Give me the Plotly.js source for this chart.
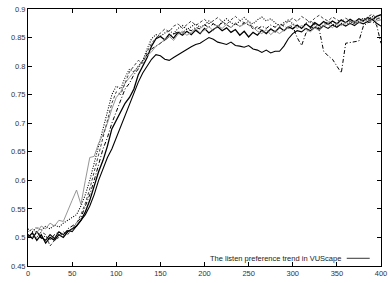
<!DOCTYPE html>
<html>
<head>
<meta charset="utf-8">
<script src="https://cdn.plot.ly/plotly-3.0.1.min.js"></script>
<style>html,body{margin:0;padding:0;background:#fff;}#chart{width:388px;height:283px;}</style>
</head>
<body>
<div id="chart"></div>
<script>
var steps = [
  0,5,10,15,20,25,30,35,40,45,
  50,55,60,65,70,75,80,85,90,95,
  100,105,110,115,120,125,130,135,140,145,
  150,155,160,165,170,175,180,185,190,195,
  200,205,210,215,220,225,230,235,240,245,
  250,255,260,265,270,275,280,285,290,295,
  300,305,310,315,320,325,330,335,340,345,
  350,355,360,365,370,375,380,385,390,395,
  400];

var runLow = [
  0.505,0.498,0.51,0.5,0.495,0.505,0.498,0.51,0.505,0.512,
  0.51,0.52,0.528,0.54,0.555,0.575,0.6,0.62,0.64,0.655,
  0.675,0.695,0.715,0.735,0.755,0.772,0.788,0.8,0.812,0.82,
  0.818,0.812,0.81,0.815,0.82,0.825,0.83,0.834,0.838,0.84,
  0.845,0.85,0.847,0.842,0.84,0.838,0.842,0.836,0.835,0.833,
  0.836,0.83,0.828,0.824,0.828,0.823,0.826,0.826,0.835,0.848,
  0.857,0.862,0.86,0.866,0.862,0.868,0.865,0.87,0.866,0.872,
  0.868,0.874,0.87,0.875,0.871,0.877,0.874,0.878,0.882,0.875,
  0.87];

var runFast = [
  0.5,0.508,0.495,0.505,0.49,0.5,0.495,0.505,0.5,0.51,
  0.515,0.52,0.53,0.545,0.565,0.59,0.615,0.635,0.66,0.69,
  0.705,0.72,0.735,0.745,0.76,0.785,0.8,0.815,0.835,0.848,
  0.852,0.846,0.856,0.849,0.859,0.854,0.861,0.855,0.863,0.857,
  0.866,0.858,0.864,0.869,0.862,0.867,0.859,0.864,0.854,0.861,
  0.851,0.859,0.854,0.863,0.857,0.865,0.86,0.868,0.862,0.869,
  0.865,0.872,0.866,0.874,0.868,0.876,0.871,0.878,0.873,0.879,
  0.874,0.881,0.876,0.882,0.877,0.883,0.879,0.885,0.881,0.887,
  0.89];

var runDip = [
  0.505,0.5,0.51,0.498,0.503,0.495,0.505,0.51,0.502,0.515,
  0.52,0.525,0.535,0.555,0.575,0.6,0.63,0.655,0.675,0.7,
  0.72,0.74,0.76,0.77,0.785,0.795,0.81,0.82,0.83,0.835,
  0.84,0.845,0.852,0.856,0.86,0.858,0.865,0.862,0.868,0.865,
  0.872,0.868,0.874,0.87,0.876,0.872,0.868,0.874,0.87,0.876,
  0.872,0.868,0.865,0.87,0.866,0.872,0.868,0.874,0.87,0.866,
  0.87,0.85,0.836,0.858,0.866,0.87,0.864,0.826,0.818,0.812,
  0.8,0.788,0.84,0.841,0.842,0.844,0.87,0.876,0.878,0.872,
  0.84];

var runLead = [
  0.515,0.51,0.518,0.512,0.52,0.515,0.522,0.518,0.525,0.53,
  0.535,0.54,0.555,0.575,0.6,0.63,0.66,0.69,0.72,0.75,
  0.765,0.76,0.78,0.795,0.79,0.8,0.81,0.83,0.848,0.855,
  0.852,0.858,0.862,0.857,0.866,0.871,0.864,0.869,0.874,0.868,
  0.872,0.879,0.874,0.869,0.877,0.883,0.876,0.872,0.879,0.885,
  0.878,0.874,0.881,0.886,0.879,0.883,0.876,0.87,0.876,0.881,
  0.874,0.87,0.868,0.875,0.879,0.873,0.867,0.872,0.878,0.874,
  0.869,0.875,0.871,0.878,0.874,0.879,0.884,0.88,0.887,0.882,
  0.886];

var runBump = [
  0.51,0.515,0.508,0.52,0.515,0.525,0.52,0.53,0.528,0.545,
  0.565,0.583,0.558,0.6,0.64,0.642,0.665,0.68,0.7,0.725,
  0.745,0.755,0.77,0.78,0.79,0.8,0.81,0.818,0.825,0.835,
  0.84,0.847,0.852,0.845,0.856,0.861,0.854,0.859,0.866,0.858,
  0.863,0.869,0.862,0.871,0.866,0.873,0.867,0.876,0.869,0.874,
  0.878,0.868,0.861,0.857,0.864,0.855,0.862,0.857,0.863,0.869,
  0.873,0.866,0.871,0.864,0.86,0.867,0.862,0.87,0.874,0.867,
  0.876,0.871,0.877,0.873,0.879,0.875,0.882,0.876,0.884,0.879,
  0.881];

var runDash = [
  0.5,0.505,0.5,0.51,0.505,0.485,0.495,0.5,0.51,0.505,
  0.515,0.525,0.54,0.56,0.585,0.615,0.645,0.675,0.7,0.735,
  0.755,0.75,0.77,0.79,0.8,0.81,0.805,0.825,0.84,0.85,
  0.858,0.865,0.86,0.87,0.874,0.866,0.872,0.879,0.871,0.876,
  0.882,0.874,0.879,0.885,0.878,0.873,0.881,0.887,0.88,0.876,
  0.872,0.865,0.869,0.861,0.858,0.866,0.86,0.867,0.873,0.878,
  0.884,0.878,0.887,0.882,0.876,0.884,0.889,0.883,0.879,0.886,
  0.881,0.877,0.884,0.879,0.874,0.882,0.878,0.886,0.891,0.884,
  0.882];

var xTicks = [0,50,100,150,200,250,300,350,400];
var yTicks = [0.45,0.5,0.55,0.6,0.65,0.7,0.75,0.8,0.85,0.9];
var legendText = 'The listen preference trend in VUScape';

var series = [
  {y: runLow,  color: '#000000', dash: 'solid',   width: 1.1},
  {y: runFast, color: '#000000', dash: 'solid',   width: 1.3},
  {y: runDip,  color: '#000000', dash: '4px,2px,1px,2px', width: 1},
  {y: runLead, color: '#000000', dash: '1px,1.5px', width: 1.1},
  {y: runBump, color: '#8a8a8a', dash: 'solid',   width: 0.9},
  {y: runDash, color: '#444444', dash: '3px,2px', width: 1}
];

var traces = series.map(function(s){
  return {x: steps, y: s.y, type: 'scatter', mode: 'lines',
    line: {color: s.color, dash: s.dash, width: s.width, shape: 'linear'},
    showlegend: false, hoverinfo: 'skip'};
});

var axisCommon = {
  ticks: 'inside', ticklen: 4, tickwidth: 1, tickcolor: '#000',
  showline: true, linecolor: '#000', linewidth: 1, mirror: 'ticks',
  showgrid: false, zeroline: false, fixedrange: true,
  tickfont: {family: 'Liberation Sans, Arial, sans-serif', size: 7.5, color: '#333'}
};

var layout = {
  width: 388, height: 283,
  margin: {l: 28, r: 7, t: 9, b: 17, pad: 0},
  paper_bgcolor: '#ffffff', plot_bgcolor: '#ffffff',
  font: {family: 'Liberation Sans, Arial, sans-serif', size: 7.5, color: '#333'},
  xaxis: Object.assign({}, axisCommon, {range: [0, 400], tickmode: 'array', tickvals: xTicks, ticktext: xTicks.map(String)}),
  yaxis: Object.assign({}, axisCommon, {range: [0.45, 0.9], tickmode: 'array', tickvals: yTicks, ticktext: yTicks.map(String)}),
  annotations: [{
    xref: 'paper', yref: 'paper', x: 0.893, y: 0.03, xanchor: 'right', yanchor: 'middle',
    text: legendText, showarrow: false,
    font: {family: 'Liberation Sans, Arial, sans-serif', size: 7.5, color: '#222'}
  }],
  shapes: [{
    type: 'line', xref: 'paper', yref: 'paper', x0: 0.903, x1: 0.968, y0: 0.03, y1: 0.03,
    line: {color: '#333', width: 1}
  }],
  showlegend: false
};

Plotly.newPlot('chart', traces, layout, {displayModeBar: false, staticPlot: true});
</script>
</body>
</html>
